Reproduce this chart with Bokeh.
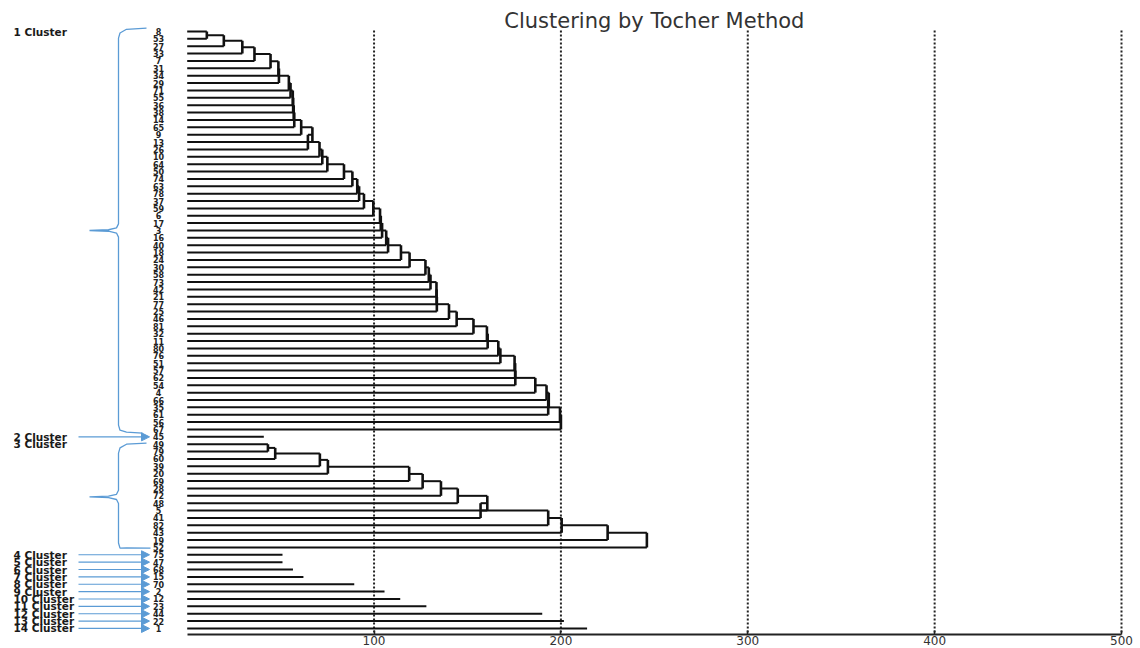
from bokeh.plotting import figure
from bokeh.models import Range1d, FixedTicker, ColumnDataSource, Arrow, NormalHead
from bokeh.core.properties import value
from bokeh.embed import file_html
from bokeh.resources import INLINE

# ---------------- data ----------------
title_text = "Clustering by Tocher Method"

cluster1_labels = ["8", "53", "27", "33", "7", "31", "34", "29", "71", "55", "36", "38", "14", "65",
                   "9", "13", "26", "10", "64", "50", "74", "63", "78", "37", "59", "6", "17", "3",
                   "16", "40", "18", "24", "30", "58", "73", "42", "21", "77", "25", "46", "81", "32",
                   "11", "80", "76", "51", "57", "62", "54", "4", "66", "35", "61", "56", "67"]
# fusion distance at which each member (after the first) joins the growing cluster
cluster1_heights = [10.5, 19.6, 29.5, 36.0, 44.6, 48.8, 49.1, 54.4, 55.3, 56.5, 56.7, 57.0, 57.3,
                    61.0, 67.0, 64.6, 70.8, 72.3, 75.0, 83.9, 88.4, 91.0, 92.0, 94.6, 99.6, 103.2,
                    103.6, 104.3, 106.5, 107.5, 114.4, 119.0, 127.5, 129.3, 130.2, 133.4, 133.5,
                    133.6, 140.1, 144.2, 153.2, 160.4, 160.8, 166.5, 167.6, 175.2, 175.5, 175.6,
                    186.3, 192.3, 193.5, 193.2, 199.5, 200.0]

cluster2_labels = ["45"]
cluster2_values = [41.0]

cluster3_labels = ["49", "79", "60", "39", "20", "69", "28", "72", "48", "5", "41", "82", "43", "19", "52"]
cluster3_heights = [43.2, 47.1, 71.0, 75.3, 118.8, 126.0, 135.8, 144.8, 160.6, 157.0, 193.2,
                    200.4, 225.0, 246.0]

single_labels = ["75", "47", "68", "15", "70", "2", "12", "23", "44", "22", "1"]
single_values = [51.0, 51.0, 56.6, 62.2, 89.4, 105.6, 114.0, 128.0, 190.0, 201.6, 214.0]

cluster_names = ["1 Cluster", "2 Cluster", "3 Cluster", "4 Cluster", "5 Cluster", "6 Cluster",
                 "7 Cluster", "8 Cluster", "9 Cluster", "10 Cluster", "11 Cluster", "12 Cluster",
                 "13 Cluster", "14 Cluster"]

x_ticks = [100, 200, 300, 400, 500]

# ---------------- layout constants ----------------
K = 1.8686          # px per unit
X0 = 186.7          # page px of value 0
ROW0 = 31.0         # page px of first row
ROWH = 7.37         # px per row
FRAME_L, FRAME_R, FRAME_T, FRAME_B = 0, 1134, 0, 634

def px2x(px):
    return (px - X0) / K

def py2r(py):
    return (py - ROW0) / ROWH

BLUE = "#5b9bd5"
INK = "#111111"

p = figure(frame_width=FRAME_R - FRAME_L, frame_height=FRAME_B - FRAME_T,
           x_range=Range1d(px2x(FRAME_L), px2x(FRAME_R)),
           y_range=Range1d(py2r(FRAME_B), py2r(FRAME_T)),
           output_backend="svg", toolbar_location=None, min_border=0)
p.outline_line_color = None
p.xgrid.visible = False
p.ygrid.visible = False
p.yaxis.visible = False
p.background_fill_color = "white"

ax = p.xaxis[0]
ax.ticker = FixedTicker(ticks=x_ticks)
ax.bounds = (0, 500)
ax.axis_line_color = "#222222"
ax.axis_line_width = 2
ax.major_tick_in = 4
ax.major_tick_out = 0
ax.major_tick_line_color = "#222222"
ax.major_tick_line_width = 1.5
ax.minor_tick_line_color = None
ax.major_label_standoff = 1
ax.major_label_text_font = "DejaVu Sans"
ax.major_label_text_font_size = "12px"
ax.major_label_text_color = "#333333"

# ---------------- rows ----------------
groups = [cluster1_labels, cluster2_labels, cluster3_labels] + [[s] for s in single_labels]
all_labels = [lab for g in groups for lab in g]
first_rows = []
r = 0
for g in groups:
    first_rows.append(r)
    r += len(g)

# dotted grid
p.segment(x0=x_ticks, y0=[-0.15] * len(x_ticks), x1=x_ticks, y1=[py2r(FRAME_B)] * len(x_ticks),
          line_color="#222222", line_width=2, line_dash="2 2")

hx0, hy0, hx1, hy1 = [], [], [], []
vx0, vy0, vx1, vy1 = [], [], [], []

def ladder(rows, heights):
    h = heights[0]
    for rr in rows[:2]:
        hx0.append(0); hy0.append(rr); hx1.append(h); hy1.append(rr)
    vx0.append(h); vy0.append(rows[0]); vx1.append(h); vy1.append(rows[1])
    nx, ny = h, (rows[0] + rows[1]) / 2
    for rr, h in zip(rows[2:], heights[1:]):
        hx0.append(nx); hy0.append(ny); hx1.append(h); hy1.append(ny)
        hx0.append(0); hy0.append(rr); hx1.append(h); hy1.append(rr)
        vx0.append(h); vy0.append(ny); vx1.append(h); vy1.append(rr)
        nx, ny = h, (ny + rr) / 2

c1_rows = list(range(first_rows[0], first_rows[0] + len(cluster1_labels)))
c3_rows = list(range(first_rows[2], first_rows[2] + len(cluster3_labels)))
ladder(c1_rows, cluster1_heights)
ladder(c3_rows, cluster3_heights)

singles_rows = [first_rows[1]] + first_rows[3:]
singles_vals = cluster2_values + single_values
for rr, v in zip(singles_rows, singles_vals):
    hx0.append(0); hy0.append(rr); hx1.append(v); hy1.append(rr)

p.segment(x0=hx0, y0=hy0, x1=hx1, y1=hy1, line_color=INK, line_width=2)
p.segment(x0=vx0, y0=vy0, x1=vx1, y1=vy1, line_color=INK, line_width=2.6)

# leaf labels
p.text(x=[px2x(158)] * len(all_labels), y=list(range(len(all_labels))), text=all_labels,
       text_font=value("DejaVu Sans"), text_font_style="bold", text_font_size="8px",
       text_color="#222222", text_align="center", text_baseline="middle")

# cluster names
p.text(x=[px2x(13)] * len(cluster_names), y=first_rows, text=cluster_names,
       text_font=value("DejaVu Sans"), text_font_style="bold", text_font_size="10.5px",
       text_color="#1a1a1a", text_align="left", text_baseline="middle")

# title
p.text(x=[250], y=[py2r(20)], text=[title_text], text_font=value("DejaVu Sans"),
       text_font_size="21px", text_color="#333333", text_align="center", text_baseline="middle")

# braces for multi-member clusters
def brace(first, last, hook_end_px, hook_end_dr):
    mid = (first + last) / 2
    pts = [(146, first - 0.45), (126, first - 0.3), (119.5, first + 0.2), (118, first + 0.9),
           (118, mid - 0.9), (116, mid - 0.35), (108, mid - 0.1), (89, mid),
           (108, mid + 0.1), (116, mid + 0.35), (118, mid + 0.9),
           (118, last - 0.6), (119.5, last + 0.1), (126, last + hook_end_dr * 0.7),
           (hook_end_px, last + hook_end_dr)]
    return [px2x(a) for a, _ in pts], [b for _, b in pts]

bx1, by1 = brace(c1_rows[0], c1_rows[-1], 142, 0.5)
bx3, by3 = brace(c3_rows[0] + 0.3, c3_rows[-1], 150, 0.1)
p.multi_line(xs=[bx1, bx3], ys=[by1, by3], line_color=BLUE, line_width=1.3)

# arrows for single-member clusters
arrow_rows = singles_rows
src = ColumnDataSource(dict(x0=[px2x(78)] * len(arrow_rows), y0=arrow_rows,
                            x1=[px2x(149)] * len(arrow_rows), y1=arrow_rows))
p.add_layout(Arrow(end=NormalHead(size=8, fill_color=BLUE, line_color=BLUE),
                   x_start="x0", y_start="y0", x_end="x1", y_end="y1", source=src,
                   line_color=BLUE, line_width=1.2))

open("out.html", "w").write(file_html(p, INLINE))
